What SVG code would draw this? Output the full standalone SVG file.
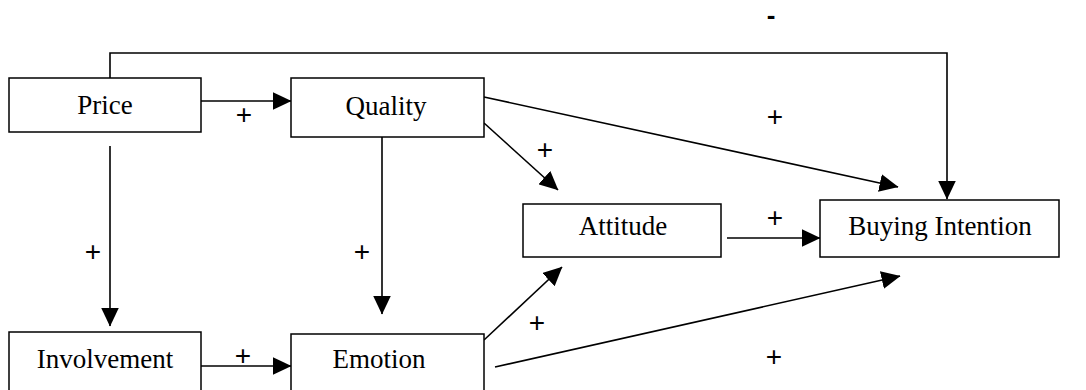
<svg xmlns="http://www.w3.org/2000/svg" width="1086" height="390" viewBox="0 0 1086 390">
<style>
.box{fill:#fff;stroke:#000;stroke-width:1.5}
.t{font-family:"Liberation Serif",serif;font-size:27px;text-anchor:middle;fill:#000}
.l{font-family:"Liberation Sans",sans-serif;font-size:28px;text-anchor:middle;fill:#000}
.c{fill:none;stroke:#000;stroke-width:1.6}
</style>
<defs>
<marker id="a" markerUnits="userSpaceOnUse" markerWidth="19" markerHeight="18" refX="18.5" refY="9" orient="auto">
<path d="M0,0 L19,9 L0,18 Z" fill="#000"/>
</marker>
</defs>
<rect width="1086" height="390" fill="#fff"/>
<g id="connectors">
<polyline class="c" points="110,78 110,53 947,53 947,199" marker-end="url(#a)"/>
<line class="c" x1="201" y1="101" x2="291" y2="101" marker-end="url(#a)"/>
<line class="c" x1="110" y1="146" x2="110" y2="326" marker-end="url(#a)"/>
<line class="c" x1="382" y1="137" x2="382" y2="314" marker-end="url(#a)"/>
<line class="c" x1="484" y1="97" x2="898" y2="187" marker-end="url(#a)"/>
<line class="c" x1="484" y1="123" x2="558" y2="190" marker-end="url(#a)"/>
<line class="c" x1="727" y1="238" x2="820" y2="238" marker-end="url(#a)"/>
<line class="c" x1="201" y1="366" x2="291" y2="366" marker-end="url(#a)"/>
<line class="c" x1="484" y1="340" x2="562" y2="267" marker-end="url(#a)"/>
<line class="c" x1="495" y1="367" x2="900" y2="276" marker-end="url(#a)"/>
<text class="l" x="771" y="24" style="font-size:26px;font-weight:bold">-</text>
<text class="l" x="244" y="124">+</text>
<text class="l" x="775" y="126">+</text>
<text class="l" x="545" y="159">+</text>
<text class="l" x="775" y="227">+</text>
<text class="l" x="93" y="261">+</text>
<text class="l" x="362" y="261">+</text>
<text class="l" x="243" y="365">+</text>
<text class="l" x="537" y="332">+</text>
<text class="l" x="774" y="366">+</text>
</g>
<g id="price"><rect class="box" x="9" y="78" width="192" height="54"/><text class="t" x="105" y="114">Price</text></g>
<g id="quality"><rect class="box" x="291" y="78" width="193" height="59"/><text class="t" x="386" y="115">Quality</text></g>
<g id="attitude"><rect class="box" x="523" y="204" width="198" height="53"/><text class="t" x="623" y="235">Attitude</text></g>
<g id="buying"><rect class="box" x="820" y="200" width="239" height="57"/><text class="t" x="940" y="235">Buying Intention</text></g>
<g id="involvement"><rect class="box" x="9" y="332" width="192" height="60"/><text class="t" x="105" y="368">Involvement</text></g>
<g id="emotion"><rect class="box" x="291" y="334" width="193" height="60"/><text class="t" x="379" y="368">Emotion</text></g>
</svg>
